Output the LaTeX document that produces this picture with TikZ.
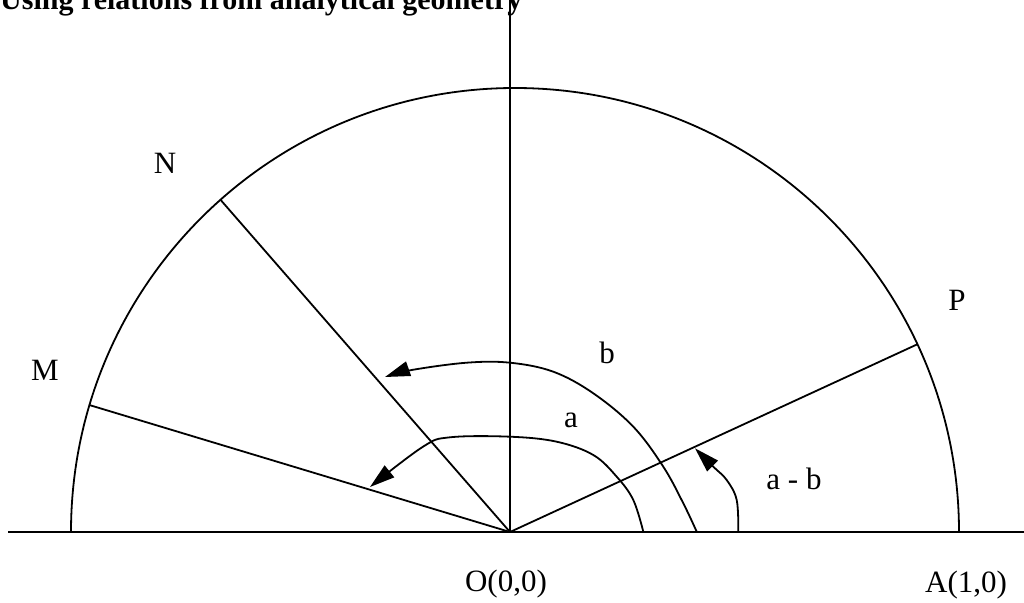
\documentclass[tikz,border=0pt]{standalone}
\usepackage{fontspec}
\setmainfont{Liberation Serif}
\usetikzlibrary{arrows.meta}
\begin{document}
\begin{tikzpicture}[x=1pt,y=-1pt,
  lbl/.style={inner sep=0pt,anchor=base,font=\fontsize{31}{36}\selectfont},
  ttl/.style={inner sep=0pt,anchor=base west,font=\fontsize{30}{36}\selectfont\bfseries},
  thin/.style={line width=1.8pt},
  axis/.style={line width=2.4pt},
  arr/.style={line width=1.8pt,-{Triangle[length=25pt,width=15pt]}}]
\useasboundingbox (0,0) rectangle (1024,602);
% points
\coordinate (O) at (510,532);
\coordinate (C) at (515,532);
\coordinate (L) at (8,532);
\coordinate (R) at (1024,532);
\coordinate (T) at (510,0);
\coordinate (P) at (917.3,344.3);
\coordinate (M) at (89.3,405);
\coordinate (N) at (220.7,200);
\coordinate (A0) at (959,532);
% title
\node[ttl] (title) at (0,10) {Using relations from analytical geometry};
% axes
\draw[axis] (L) -- (R);
\draw[thin] (O) -- (T);
% semicircle
\draw[thin] (A0) arc[start angle=0,end angle=-180,radius=444];
% rays
\draw[thin] (O) -- (P);
\draw[thin] (O) -- (M);
\draw[thin] (O) -- (N);
% angle arrows
\coordinate (bs) at (696.7,531.7);
\coordinate (bt) at (385,377);
\draw[arr] plot[smooth,tension=0.6] coordinates {(bs) (683.3,503.3) (663.3,466.7) (633.3,426.7) (593.3,393.3) (553.3,371.7) (510,362.7) (466.7,362.7) (411.7,370) (bt)};
\coordinate (as) at (643.3,531.7);
\coordinate (at) at (370,487);
\draw[arr] plot[smooth,tension=0.6] coordinates {(as) (633.3,500) (616.7,476.7) (593.3,455) (556.7,441.7) (510,436.7) (450,437.3) (423,446.7) (at)};
\coordinate (cs) at (738.3,531.7);
\coordinate (ct) at (695,448.3);
\draw[arr] plot[smooth,tension=0.6] coordinates {(cs) (736.7,500) (726.7,480) (713.3,466.7) (ct)};
% labels
\node[lbl] (lN) at (165,173) {N};
\node[lbl] (lM) at (45,380) {M};
\node[lbl] (lP) at (957,310) {P};
\node[lbl] (lb) at (607,363) {b};
\node[lbl] (la) at (571,427) {a};
\node[lbl] (lab) at (794,489) {a - b};
\node[lbl] (lO) at (506,591) {O(0,0)};
\node[lbl] (lA) at (966,592) {A(1,0)};
\end{tikzpicture}
\end{document}
